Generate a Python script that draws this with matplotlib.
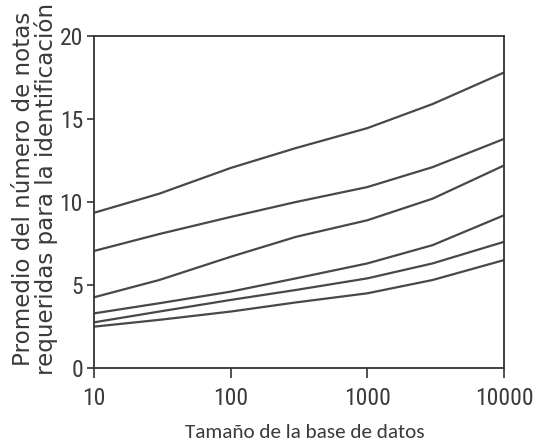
import matplotlib
matplotlib.use("Agg")
import matplotlib.pyplot as plt

x = [10, 30, 100, 300, 1000, 3000, 10000]
line1 = [9.35, 10.5, 12.05, 13.25, 14.45, 15.9, 17.8]
line2 = [7.05, 8.07, 9.1, 10.0, 10.9, 12.1, 13.8]
line3 = [4.26, 5.3, 6.7, 7.9, 8.9, 10.2, 12.2]
line4 = [3.29, 3.9, 4.6, 5.4, 6.3, 7.4, 9.2]
line5 = [2.75, 3.4, 4.1, 4.7, 5.4, 6.3, 7.6]
line6 = [2.49, 2.9, 3.4, 3.95, 4.5, 5.3, 6.5]
series = [line1, line2, line3, line4, line5, line6]

xticks = [10, 100, 1000, 10000]
xticklabels = ["10", "100", "1000", "10000"]
yticks = [0, 5, 10, 15, 20]

W, H = 537, 448
fig = plt.figure(figsize=(W/100, H/100), dpi=100)
ax = fig.add_axes([94/W, 1-368/H, (504-94)/W, (368-36)/H])
for s in series:
    ax.plot(x, s, color="#484848", lw=1.6)
ax.set_xscale("log")
ax.set_xlim(10, 10000)
ax.set_ylim(0, 20)
ax.set_xticks(xticks)
ax.set_xticklabels(xticklabels)
ax.minorticks_off()
ax.set_yticks(yticks)
ax.set_yticklabels([str(v) for v in yticks])
for lab in ax.get_xticklabels() + ax.get_yticklabels():
    lab.set_family("Roboto Condensed")
    lab.set_fontsize(17)
    lab.set_color("#3a3a3a")
ax.tick_params(axis="x", direction="out", length=7, width=1.2, color="#333333", pad=6.5)
ax.tick_params(axis="y", direction="out", length=5, width=1.2, color="#333333", pad=3)
for sp in ax.spines.values():
    sp.set_linewidth(1.3)
    sp.set_color("#333333")

fig.text(305/W, 1-438/H, "Tamaño de la base de datos", fontsize=15.2, family="Carlito",
         color="#3a3a3a", ha="center", va="baseline")
fig.text(35/W, 1-189/H, "Promedio del número de notas\nrequeridas para la identificación",
         fontsize=16.6, family="DejaVu Sans", color="#3a3a3a", rotation=90,
         ha="center", va="center", multialignment="center", linespacing=0.9)
fig.savefig("out.png", dpi=100)
